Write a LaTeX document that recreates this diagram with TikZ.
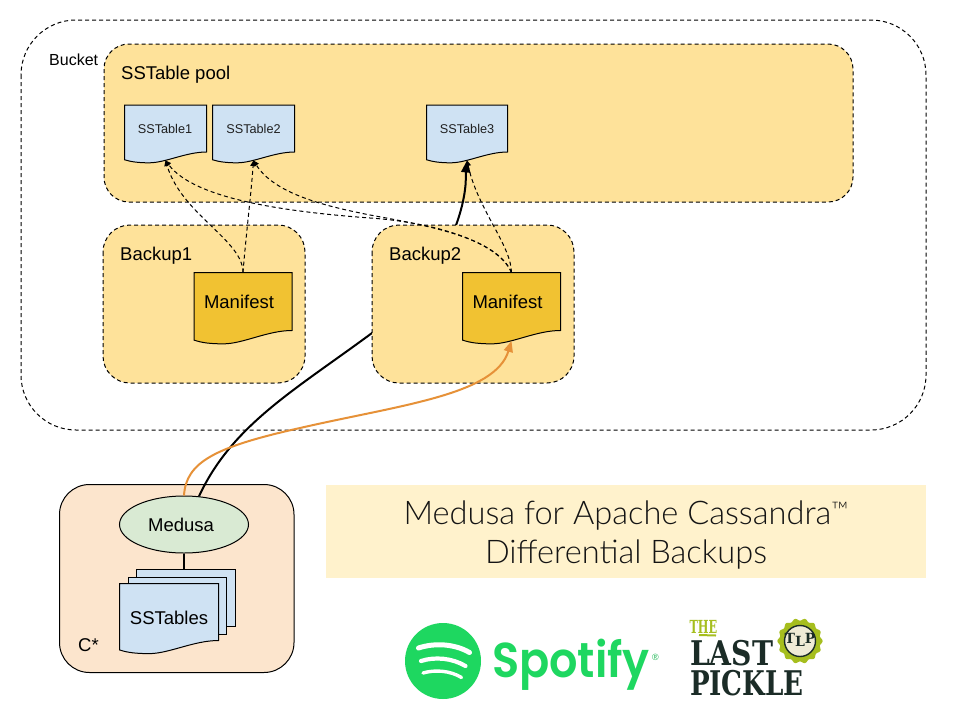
\documentclass[tikz,border=0pt]{standalone}
\usepackage{fontspec}
\setmainfont{Liberation Sans}
\newfontfamily\titlefont{Lato Light}
\newfontfamily\spotfont{Poppins SemiBold}
\newfontfamily\slabfont{DejaVu Serif}
\usetikzlibrary{arrows.meta,calc,shapes.geometric}
\definecolor{poolfill}{HTML}{FEE29A}
\definecolor{docblue}{HTML}{CFE2F3}
\definecolor{manfill}{HTML}{F1C232}
\definecolor{cstar}{HTML}{FCE5CD}
\definecolor{medfill}{HTML}{D9EAD3}
\definecolor{bandfill}{HTML}{FFF2CC}
\definecolor{orangeline}{HTML}{E69138}
\definecolor{spotgreen}{HTML}{1ED760}
\definecolor{tlpgreen}{HTML}{A6BE1E}
\definecolor{tlpdark}{HTML}{1B2C27}
\definecolor{tlpcream}{HTML}{EFEBD6}
\newcommand{\fs}[1]{\fontsize{#1}{#1}\selectfont}
\tikzset{
  x=1pt,y=-1pt,
  groupbox/.style={draw=black,line width=1pt,dash pattern=on 4pt off 3pt},
  labeltext/.style={inner sep=0pt,font=\fs{18.5},text=black},
  smalltext/.style={inner sep=0pt,font=\fs{12.7},text=black!88},
  docoutline/.style={draw=black,line width=1pt,line join=miter},
  anchorbox/.style={inner sep=0pt,outer sep=0pt,draw=none,fill=none},
  reflink/.style={line width=1pt,dash pattern=on 4pt off 3pt,-{Triangle[length=5.5pt,width=5.5pt]},black},
  thicklink/.style={line width=2pt,black},
  orangelink/.style={line width=2pt,orangeline},
  stackpage/.style={draw=black,line width=1pt,fill=docblue,inner sep=0pt,anchor=north west},
}
% name, x0, y0, x1, y of right lower corner, fill
\newcommand{\docnode}[6]{%
  \pgfmathsetmacro{\docw}{#4-#2}%
  \pgfmathsetmacro{\dochh}{#5-#3}%
  \pgfmathsetmacro{\dip}{0.23*\dochh}%
  \pgfmathsetmacro{\lft}{0.165*\dochh}%
  \pgfmathsetmacro{\doch}{1.18*\dochh}%
  \filldraw[docoutline,fill=#6] (#2,#3) -- (#4,#3) -- (#4,#5)
    .. controls ({#4-0.25*\docw},#5) and ({#2+0.5*\docw},{#5+\dip}) .. ({#2+0.3*\docw},{#5+\dip})
    .. controls ({#2+0.17*\docw},{#5+\dip}) and ({#2+0.08*\docw},{#5+\dip-1}) .. (#2,{#5+\lft}) -- cycle;
  \node[anchorbox,minimum width=\docw pt,minimum height=\doch pt,anchor=north west] (#1) at (#2,#3) {};
}
\begin{document}
\begin{tikzpicture}
\useasboundingbox (0,0) rectangle (960,720);
\fill[white] (0,0) rectangle (960,720);

% bucket and pool
\draw[groupbox,rounded corners=55pt] (21,20) rectangle (926,430);
\node[labeltext,font=\fs{16},anchor=west] (bucketlabel) at (49,59.5) {Bucket};
\draw[groupbox,fill=poolfill,rounded corners=25pt] (104,44) rectangle (853,202);
\node[labeltext,anchor=west] (poollabel) at (121,75) {SSTable pool};

% SSTable documents
\docnode{st1}{124.5}{105}{206.5}{152}{docblue}
\docnode{st2}{212.5}{105}{294.5}{152}{docblue}
\docnode{st3}{426.5}{105}{507.5}{152}{docblue}
\node[smalltext] (st1t) at (165,129) {SSTable1};
\node[smalltext] (st2t) at (253.5,129) {SSTable2};
\node[smalltext] (st3t) at (467,129) {SSTable3};

% C* box, band
\draw[black,line width=1pt,fill=cstar,rounded corners=30pt] (59.5,484.5) rectangle (294,672.5);
\node[labeltext,anchor=west] (cstarlabel) at (78,645) {C*};
\fill[bandfill] (326,485) rectangle (926,578);
\node[anchorbox,align=center,font=\titlefont\fontsize{32.6}{38.5}\selectfont,text=black!92] (title) at (626,535)
  {Medusa for Apache Cassandra\raisebox{6pt}{\fs{23}™}\\Differential Backups};

% Medusa and its stack
\node[ellipse,draw=black,line width=1pt,fill=medfill,minimum width=129pt,minimum height=57pt,inner sep=0pt] (medusa) at (184,524.5) {};
\node[labeltext] (medusat) at (181,524.5) {Medusa};
\node[stackpage,minimum width=99pt,minimum height=57pt] (stb) at (135.5,569) {};
\node[stackpage,minimum width=98pt,minimum height=57pt] (stm) at (127.5,576.5) {};
\docnode{stf}{119.5}{583.5}{218.5}{640.5}{docblue}
\node[labeltext] (stft) at (169,618) {SSTables};
\draw[black,line width=2pt] (medusa.south) -- (medusa.south |- stb.north);

% thick backup line goes behind Backup2
\draw[thicklink] (medusa.62) .. controls (232,425) and (295,390) .. (372,333)
   .. controls (435,288) and (462,225) .. (465.5,185);
\draw[line width=2pt,-{Triangle[length=12pt,width=9pt]}] (465.5,185) .. controls (466,178) and (466,170) .. (st3.south);

% backups
\draw[groupbox,fill=poolfill,rounded corners=27pt] (103,225) rectangle (305,383);
\draw[groupbox,fill=poolfill,rounded corners=27pt] (372,225) rectangle (574,383);
\node[labeltext,anchor=west] (b1label) at (120,256) {Backup1};
\node[labeltext,anchor=west] (b2label) at (389,256) {Backup2};
\docnode{man1}{194}{272.5}{292}{330.5}{manfill}
\docnode{man2}{462.5}{272.5}{560.5}{330.5}{manfill}
\node[labeltext] (man1t) at (239,302) {Manifest};
\node[labeltext] (man2t) at (507.5,302) {Manifest};

% references
\draw[reflink] (man1.north) .. controls (243,240) and (182,215) .. (st1.south);
\draw[reflink] (man1.north) .. controls (246,235) and (251,195) .. (st2.south);
\draw[reflink] (man2.north) .. controls (511,245) and (478,210) .. (st3.south);
\draw[reflink] (man2.north) .. controls (497,240) and (430,222) .. (370,218)
   .. controls (290,212) and (195,200) .. (st1.south);
\draw[reflink] (man2.north) .. controls (497,238) and (430,226) .. (370,215)
   .. controls (330,207) and (275,195) .. (st2.south);

% orange
\draw[orangelink,-{Triangle[length=11pt,width=9pt]}] (medusa.north) .. controls (186,462) and (215,447) .. (300,428)
   .. controls (400,405) and (495,395) .. (man2.south);

% Spotify
\fill[spotgreen] (443,661) circle (38);
\draw[white,line width=5pt,line cap=round] (418.5,648) .. controls (435,642.5) and (455,644) .. (469.5,652.5);
\draw[white,line width=4.2pt,line cap=round] (421,661) .. controls (435,656.5) and (452,658) .. (465.5,666);
\draw[white,line width=3.4pt,line cap=round] (423,673) .. controls (435,669.5) and (450,670.5) .. (461.5,677.5);
\node[anchorbox,anchor=base west,xscale=0.91,transform shape,font=\spotfont\fs{49},text=spotgreen] (spotify) at (492,677) {Spotify};
\node[anchorbox,anchor=center,font=\fs{9},text=spotgreen!85!black] (spotr) at (655.5,657) {®};

% The Last Pickle
\node[anchorbox,anchor=base west,xscale=0.63,transform shape,font=\slabfont\bfseries\fs{18},text=tlpgreen] (tlpthe) at (689.5,633) {THE};
\draw[tlpgreen,line width=2pt] (699,635) -- (716,635.5);
\node[anchorbox,anchor=base west,xscale=0.83,transform shape,font=\slabfont\bfseries\fs{34},text=tlpdark] (tlplast) at (690,665) {LAST};
\node[anchorbox,anchor=base west,xscale=0.77,transform shape,font=\slabfont\bfseries\fs{34},text=tlpdark] (tlppick) at (690,695) {PICKLE};
\fill[tlpgreen,domain=0:360,samples=145,smooth] plot ({800+(21.5+1.1*cos(14*\x))*cos(\x)},{641+(21.5+1.1*cos(14*\x))*sin(\x)}) -- cycle;
\draw[tlpdark,line width=1.4pt,fill=tlpcream] (800,641) circle (15.5);
\node[anchorbox,font=\slabfont\bfseries\fs{14},text=tlpdark] (tlpbadge) at (800,640) {T\raisebox{-3pt}{L}P};
\end{tikzpicture}
\end{document}
